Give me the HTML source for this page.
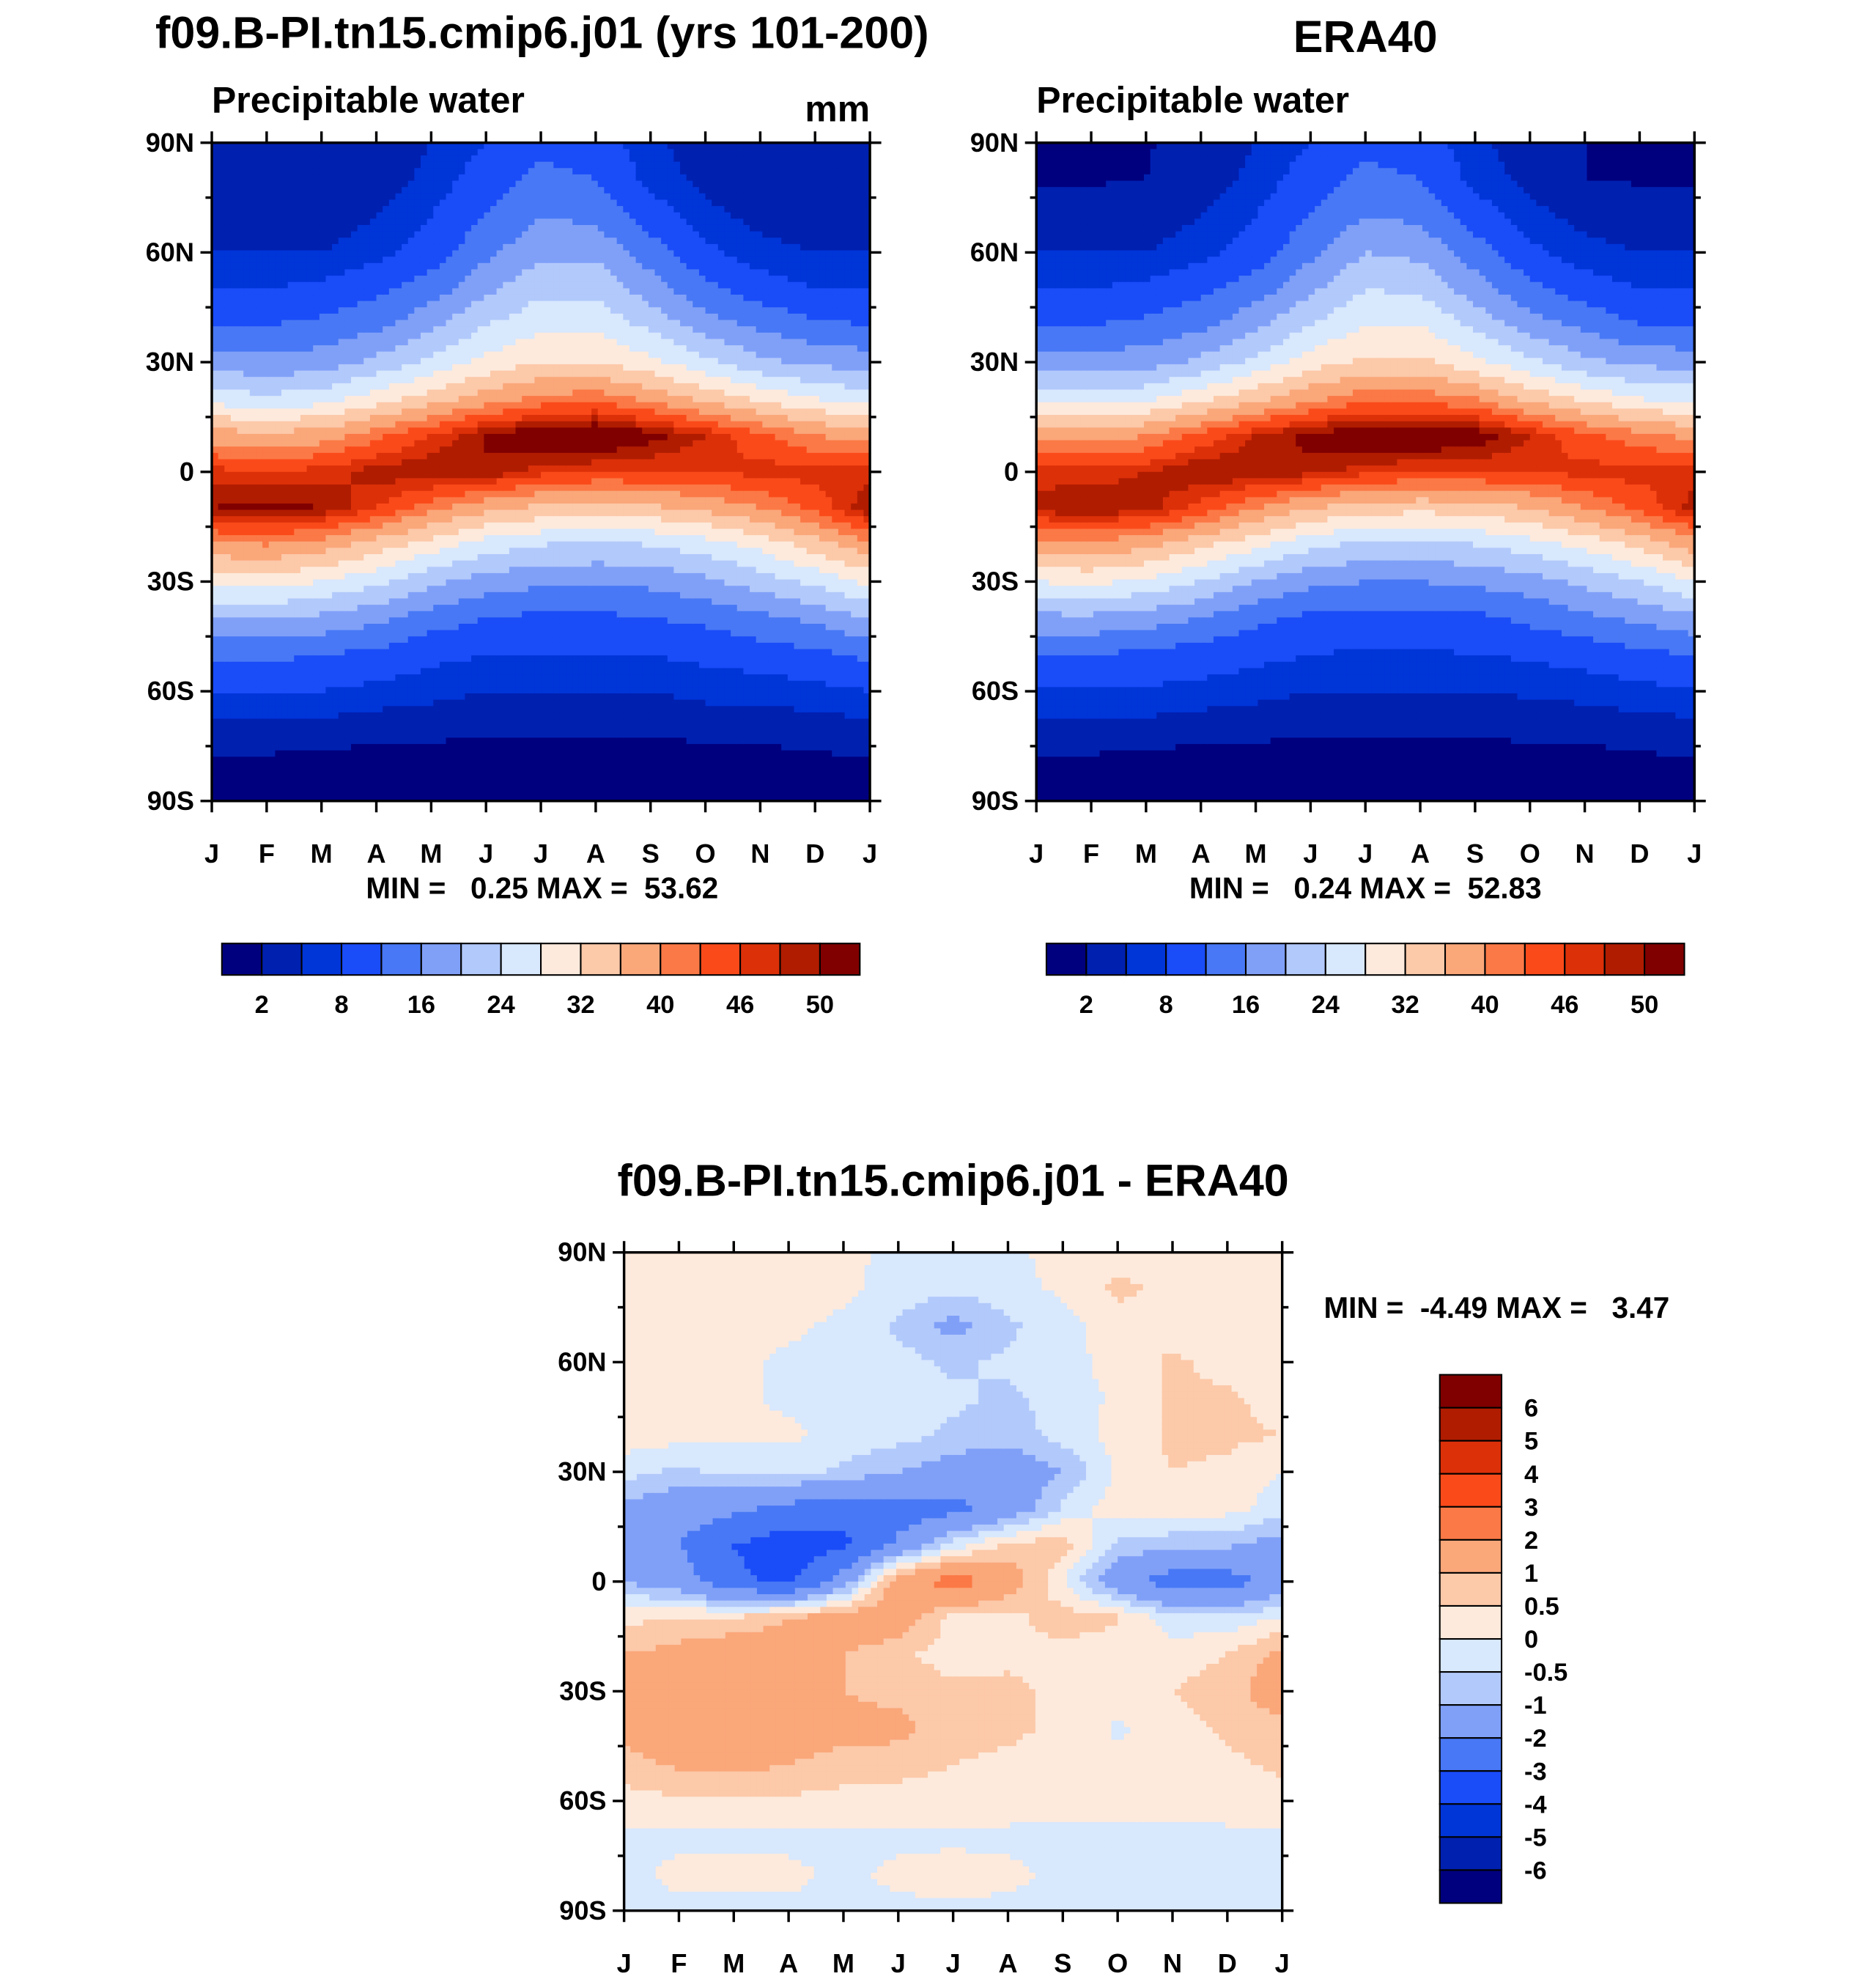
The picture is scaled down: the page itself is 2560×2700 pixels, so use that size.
<!DOCTYPE html>
<html><head><meta charset="utf-8"><style>
html,body{margin:0;padding:0;background:#fff}
svg{display:block}
text{font-family:"Liberation Sans",sans-serif;font-weight:bold;fill:#000}
</style></head><body>
<svg id="fig" width="2560" height="2700" viewBox="0 0 1488 1569" xmlns="http://www.w3.org/2000/svg">
<text x="430" y="38" font-size="35.5" text-anchor="middle">f09.B-PI.tn15.cmip6.j01 (yrs 101-200)</text>
<text x="1083" y="41" font-size="35.5" text-anchor="middle">ERA40</text>
<text x="168" y="89" font-size="29">Precipitable water</text>
<text x="690" y="96" font-size="29" text-anchor="end">mm</text>
<text x="822" y="89" font-size="29">Precipitable water</text>
<text x="430" y="712" font-size="23.5" text-anchor="middle" xml:space="preserve">MIN =   0.25 MAX =  53.62</text>
<text x="1083" y="712" font-size="23.5" text-anchor="middle" xml:space="preserve">MIN =   0.24 MAX =  52.83</text>
<text x="756" y="948" font-size="35.5" text-anchor="middle">f09.B-PI.tn15.cmip6.j01 - ERA40</text>
<text x="1050" y="1045" font-size="23.5" xml:space="preserve">MIN =  -4.49 MAX =   3.47</text>
<g id="layer"></g>
</svg>
<script>
const months=['J','F','M','A','M','J','J','A','S','O','N','D','J'];
const latTicks=[90,60,30,0,-30,-60,-90];
const latTickLabels=['90N','60N','30N','0','30S','60S','90S'];
const lats=[90,80,70,60,50,40,30,20,10,0,-10,-20,-30,-40,-50,-60,-70,-80,-90];
const absLevels=[2,5,8,12,16,20,24,28,32,36,40,43,46,48,50];
const absLevelLabels=['2','','8','','16','','24','','32','','40','','46','','50'];
const absColors=['#00007f','#0020b0','#0035d8','#1a4cf8','#4878f5','#80a0f8','#b2c9fb','#d8e8fd','#fdeadc','#fcc9a9','#faa77a','#fb7946','#fb4a1a','#dc3009','#b01c00','#800000'];
const diffLevels=[-6,-5,-4,-3,-2,-1,-0.5,0,0.5,1,2,3,4,5,6];
const diffLevelLabels=['-6','-5','-4','-3','-2','-1','-0.5','0','0.5','1','2','3','4','5','6'];
const diffColors=absColors;
const modelPW=[
[2,2,2,3,5,8,11,10,6,3,2,2,2],
[2,2,2,3,6,10,13,12,7,4,2,2,2],
[3,3,3,5,8,12,16,15,10,6,4,3,3],
[5,5,5,7,10,15,19,19,14,9,6,5,5],
[8,8,9,11,14,19,23,23,18,13,10,8,8],
[12,12,13,15,19,24,27,27,23,18,15,13,12],
[18,17,18,21,25,29,32,32,29,25,21,19,18],
[26,25,26,30,34,38,41,42,39,35,31,28,26],
[38,37,38,42,46,50,52.5,53.5,51,48,44,40,38],
[47,46,47,49,50,50,47,46,46,46,47,47,47],
[50,51,50,46,41,37,35,34,35,37,40,44,50],
[39,40,38,34,30,26,24,23,24,26,29,34,39],
[29,30,28,25,21,18,17,17,17,19,22,25,29],
[20,20,19,17,14,12,11,11,12,13,15,17,20],
[13,13,12,11,9,8,8,8,8,9,10,11,13],
[8,8,8,7,6,5,5,5,5,6,6,7,8],
[4,4,4,3,3,2.5,2.5,2.5,2.5,3,3,3.5,4],
[1.5,1.2,0.8,0.6,0.5,0.4,0.4,0.4,0.4,0.5,0.8,1.2,1.5],
[0.5,0.4,0.3,0.3,0.25,0.25,0.25,0.25,0.25,0.3,0.3,0.4,0.5]];
const eraPW=[
[1.5,1.5,1.8,3,5,8,11,10,6,3,2,1.5,1.5],
[1.8,1.8,2,3,6,10,13,12,7,4,2,1.8,1.8],
[3,3,3,5,8,12,16,15,10,6,4,3,3],
[5,5,5,7,10,15,20,19,14,9,6,5,5],
[8,8,9,11,14,19,24,23,18,13,10,8,8],
[12,12,13,15,19,24,28,28,23,18,15,12,12],
[18,18,18,21,25,30,33,33,29,25,21,19,18],
[27,26,27,31,35,39,42,42,40,35,31,28,27],
[39,38,40,44,48,51,52,53,52,48,44,41,39],
[47,47,48,50,50,49,47,46,46,46,47,47,47],
[49,50,49,45,40,36,34,33,34,36,40,44,49],
[38,39,37,33,29,25,23,23,24,26,29,33,38],
[28,29,27,24,20,17,16,16,17,18,21,24,28],
[19,19,18,16,13,11,11,11,11,13,15,17,19],
[12,12,11,10,9,8,7.5,7.5,8,8.5,9.5,11,12],
[7.5,7.5,7.5,7,6,5,5,5,5,5.5,6,7,7.5],
[4,4,4,3,3,2.5,2.5,2.5,2.5,3,3,3.5,4],
[1.5,1.2,0.8,0.6,0.5,0.4,0.4,0.4,0.4,0.5,0.8,1.2,1.5],
[0.5,0.4,0.3,0.3,0.25,0.24,0.24,0.24,0.25,0.3,0.3,0.4,0.5]];
const diffPW=[
[0.3,0.3,0.3,0.3,0.2,-0.2,-0.3,-0.2,0.3,0.3,0.3,0.3,0.3],
[0.2,0.3,0.3,0.2,0.1,-0.2,-0.4,-0.2,0.1,0.6,0.4,0.2,0.2],
[0.2,0.2,0.2,0.1,-0.1,-0.6,-1.2,-0.6,-0.2,0.3,0.3,0.2,0.2],
[0.2,0.2,0.1,-0.1,-0.2,-0.3,-0.6,-0.4,-0.2,0.2,0.6,0.3,0.2],
[0.2,0.2,0.1,-0.1,-0.2,-0.3,-0.4,-0.6,-0.3,0.1,0.6,0.6,0.3],
[0.3,0.2,0.1,0.1,-0.2,-0.3,-0.6,-0.8,-0.3,0.2,0.6,0.6,0.5],
[-0.3,-0.6,-0.4,-0.3,-0.6,-1,-1.4,-1.5,-1,0.1,0.5,0.4,0],
[-1.2,-1.5,-1.8,-2.3,-2.6,-2.5,-2.3,-1.6,-0.4,0.3,0.4,0.2,-0.3],
[-1.5,-2,-3,-3.6,-3.2,-1.8,-0.3,0.6,0.8,-0.6,-0.9,-0.9,-1.3],
[-1,-1.5,-2.8,-3.2,-1.5,1.5,2.5,1.5,0,-1.6,-2.5,-2.5,-1.5],
[0.3,0.6,0.6,1,1.5,1.5,0.3,0.3,0.8,0.6,-0.3,-0.4,0.1],
[1,1.2,1.5,1.3,1,0.6,0.3,0.4,0.3,0.1,0.3,0.5,1.2],
[1.2,1.6,2,1.5,1,0.8,0.6,0.6,0.4,0.3,0.5,0.7,1.5],
[1.2,1.5,1.6,1.3,1.2,1.2,0.7,0.6,0.4,-0.1,0.3,0.6,0.8],
[0.8,1.1,1.2,1,0.8,0.7,0.5,0.4,0.3,0.2,0.3,0.4,0.6],
[0.3,0.4,0.4,0.4,0.3,0.3,0.2,0.2,0.1,0.1,0.1,0.2,0.3],
[-0.1,-0.1,-0.1,-0.1,-0.1,-0.1,-0.1,-0.1,-0.1,-0.1,-0.1,-0.1,-0.1],
[-0.1,0.1,0.1,0.1,-0.1,0.1,0.2,0.1,-0.1,-0.1,-0.1,-0.1,-0.1],
[-0.1,-0.1,-0.1,-0.1,-0.1,-0.1,-0.1,-0.1,-0.1,-0.1,-0.1,-0.1,-0.1]];

const NS='http://www.w3.org/2000/svg';
const layer=document.getElementById('layer');
function mk(tag,attrs,parent){const e=document.createElementNS(NS,tag);for(const k in attrs)e.setAttribute(k,attrs[k]);(parent||layer).appendChild(e);return e;}
function colorFor(v,levels,colors){let i=0;while(i<levels.length&&v>=levels[i])i++;return colors[i];}
function interp(data,m,lat){
  const c=Math.max(0,Math.min(11.9999,m));const c0=Math.floor(c),fc=c-c0;
  const r=Math.max(0,Math.min(17.9999,(90-lat)/10));const r0=Math.floor(r),fr=r-r0;
  const a=data[r0][c0],b=data[r0][c0+1],d=data[r0+1][c0],e=data[r0+1][c0+1];
  return (a*(1-fc)+b*fc)*(1-fr)+(d*(1-fc)+e*fc)*fr;
}
function panel(name,x0,y0,w,h,data,levels,colors){
  const g=mk('g',{});
  
  
  const xs=m=>x0+m/12*w, ys=lat=>y0+(90-lat)/180*h;
  const N=104;
  for(let i=0;i<N;i++)for(let j=0;j<N;j++){
    const m=(i+0.5)/N*12, lat=90-(j+0.5)/N*180;
    const v=interp(data,m,lat);
    const r=mk('rect',{x:(xs(i/N*12)).toFixed(2),y:(ys(90-j/N*180)).toFixed(2),width:(w/N+0.6).toFixed(2),height:(h/N+0.6).toFixed(2),fill:colorFor(v,levels,colors)},g);
    
    
  }
  const fr=mk('rect',{x:x0,y:y0,width:w,height:h,fill:'none',stroke:'#000','stroke-width':2},g);
  
  
  for(let lat=-90;lat<=90;lat+=15){
    const maj=lat%30===0, L=maj?9:5, y=ys(lat);
    mk('line',{x1:x0-L,x2:x0,y1:y,y2:y,stroke:'#000','stroke-width':2},g);
    mk('line',{x1:x0+w,x2:x0+w+L,y1:y,y2:y,stroke:'#000','stroke-width':2},g);
  }
  latTicks.forEach((lat,k)=>{
    const t=mk('text',{x:x0-14,y:ys(lat)+7,'font-size':21,'text-anchor':'end'},g);
    t.textContent=latTickLabels[k];
    
    
  });
  months.forEach((lab,k)=>{
    const x=xs(k);
    mk('line',{x1:x,x2:x,y1:y0+h,y2:y0+h+9,stroke:'#000','stroke-width':2},g);
    mk('line',{x1:x,x2:x,y1:y0-9,y2:y0,stroke:'#000','stroke-width':2},g);
    const t=mk('text',{x:x,y:y0+h+49,'font-size':21,'text-anchor':'middle'},g);
    t.textContent=lab;
    
    
  });
}
function hbar(name,x0,y0,w,h){
  const g=mk('g',{});
  
  
  const bw=w/absColors.length;
  absColors.forEach((c,k)=>{
    const r=mk('rect',{x:x0+k*bw,y:y0,width:bw,height:h,fill:c,stroke:'#000','stroke-width':1.2},g);
    
    
  });
  absLevelLabels.forEach((lab,k)=>{
    if(!lab)return;
    const t=mk('text',{x:x0+(k+1)*bw,y:y0+h+30,'font-size':20,'text-anchor':'middle'},g);
    t.textContent=lab;
    
    
  });
}
function vbar(name,x0,y0,w,h){
  const g=mk('g',{});
  
  
  const n=diffColors.length, bh=h/n;
  for(let k=0;k<n;k++){
    const r=mk('rect',{x:x0,y:y0+k*bh,width:w,height:bh,fill:diffColors[n-1-k],stroke:'#000','stroke-width':1.2},g);
    
    
  }
  for(let k=0;k<diffLevelLabels.length;k++){
    const t=mk('text',{x:x0+w+18,y:y0+(k+1)*bh+7,'font-size':20},g);
    t.textContent=diffLevelLabels[diffLevelLabels.length-1-k];
    
    
  }
}
panel('model-panel',168,113,522,522,modelPW,absLevels,absColors);
panel('era-panel',822,113,522,522,eraPW,absLevels,absColors);
panel('diff-panel',495,993,522,522,diffPW,diffLevels,diffColors);
hbar('model-colorbar',176,748,506,25);
hbar('era-colorbar',830,748,506,25);
vbar('diff-colorbar',1142,1090,49,419);
</script>
</body></html>
